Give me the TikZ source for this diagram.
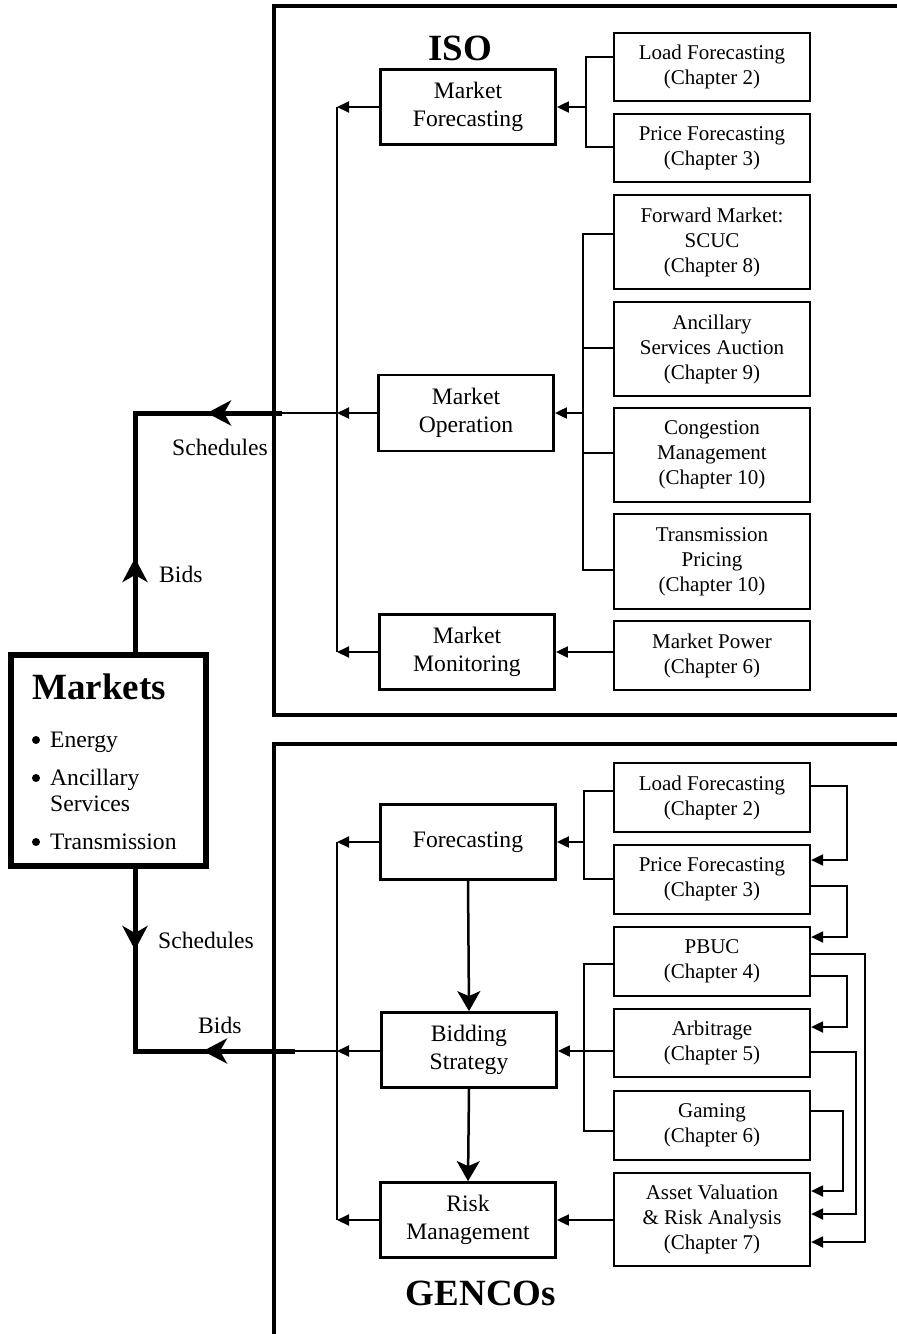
\documentclass[tikz,border=0pt]{standalone}
\usepackage{fontspec}
\setmainfont{Liberation Serif}
\usetikzlibrary{arrows.meta,calc}
\begin{document}
\begin{tikzpicture}[x=1pt,y=-1pt,
  mainbox/.style={draw, line width=2.8pt, minimum width=175pt, minimum height=75pt, inner sep=0pt, align=center, font=\fontsize{23.6}{27.5}\selectfont},
  chapbox/.style={draw, line width=2.2pt, minimum width=196pt, inner sep=0pt, align=center, font=\fontsize{21}{25}\selectfont},
  conn/.style={line width=2pt},
  tri/.style={-{Triangle[length=12pt,width=11pt]}},
  bigline/.style={line width=5pt},
  bighead/.style={-{Stealth[length=24pt,width=25pt,inset=7pt]}},
  midhead/.style={-{Stealth[length=20pt,width=23pt,inset=5pt]}},
  frameline/.style={line width=4pt},
  lbl/.style={font=\fontsize{23.6}{28}\selectfont, inner sep=0pt},
  dotmark/.style={circle, fill, inner sep=0pt, minimum size=8pt},
  titletext/.style={font=\fontsize{37}{40}\selectfont\bfseries, inner sep=0pt}
]
\fill[white] (0,0) rectangle (897,1334);
\useasboundingbox (0,0) rectangle (897,1334);

% frames
\draw[frameline] (900,6) -- (273.5,6) -- (273.5,715) -- (900,715);
\draw[frameline] (900,743.5) -- (273.5,743.5) -- (273.5,1340);

% titles
\node[titletext, anchor=base] (iso) at (460,60) {ISO};
\node[titletext, anchor=base] (gencos) at (481,1305) {GENCOs};

% ISO main boxes
\node[mainbox] (MF) at (468,107) {Market\\Forecasting};
\node[mainbox, minimum height=76pt] (MO) at (466,413) {Market\\Operation};
\node[mainbox] (MM) at (467,652) {Market\\Monitoring};

% ISO chapter boxes
\node[chapbox, minimum height=68pt] (LF1) at (712,67) {Load Forecasting\\(Chapter 2)};
\node[chapbox, minimum height=68pt] (PF1) at (712,148) {Price Forecasting\\(Chapter 3)};
\node[chapbox, minimum height=94pt] (FM) at (712,242) {Forward Market:\\SCUC\\(Chapter 8)};
\node[chapbox, minimum height=94pt] (AS) at (712,349) {Ancillary\\Services Auction\\(Chapter 9)};
\node[chapbox, minimum height=94pt] (CM) at (712,455) {Congestion\\Management\\(Chapter 10)};
\node[chapbox, minimum height=95pt] (TP) at (712,561.5) {Transmission\\Pricing\\(Chapter 10)};
\node[chapbox, minimum height=69pt] (MP) at (712,655.5) {Market Power\\(Chapter 6)};

% GENCO main boxes
\node[mainbox] (FC) at (468,842) {Forecasting};
\node[mainbox] (BS) at (469,1050) {Bidding\\Strategy};
\node[mainbox] (RM) at (468,1220) {Risk\\Management};

% GENCO chapter boxes
\node[chapbox, minimum height=69pt] (LF2) at (712,797.5) {Load Forecasting\\(Chapter 2)};
\node[chapbox, minimum height=69pt] (PF2) at (712,879.5) {Price Forecasting\\(Chapter 3)};
\node[chapbox, minimum height=69pt] (PB) at (712,961.5) {PBUC\\(Chapter 4)};
\node[chapbox, minimum height=68pt] (AR) at (712,1043) {Arbitrage\\(Chapter 5)};
\node[chapbox, minimum height=69pt] (GA) at (712,1125.5) {Gaming\\(Chapter 6)};
\node[chapbox, minimum height=93pt] (AV) at (712,1219.5) {Asset Valuation\\\& Risk Analysis\\(Chapter 7)};

% Markets box
\node[draw, line width=5.5pt, minimum width=195pt, minimum height=211pt, inner sep=0pt] (markets) at (108.5,760.5) {};
\node[titletext, anchor=base west] (mkt) at (32,699) {Markets};
\node[dotmark] (bu1) at (36,740) {};
\node[lbl, anchor=base west] (it1) at (50,747) {Energy};
\node[dotmark] (bu2) at (36,778) {};
\node[lbl, anchor=base west] (it2) at (50,785) {Ancillary};
\node[lbl, anchor=base west] (it2b) at (50,811) {Services};
\node[dotmark] (bu3) at (36,842) {};
\node[lbl, anchor=base west] (it3) at (50,849) {Transmission};

% labels
\node[lbl, anchor=base west] (schU) at (172,455) {Schedules};
\node[lbl, anchor=base west] (bidsU) at (159,582) {Bids};
\node[lbl, anchor=base west] (schL) at (158,948) {Schedules};
\node[lbl, anchor=base west] (bidsL) at (198,1033) {Bids};

% coordinates
\coordinate (L1) at (337,107);
\coordinate (L2) at (337,413);
\coordinate (L3) at (337,652);
\coordinate (G1) at (337,842);
\coordinate (G2) at (337,1051);
\coordinate (G3) at (337,1220);
\coordinate (r1) at (586,107);
\coordinate (r2) at (583,413);
\coordinate (r3) at (584,842);
\coordinate (upcorner) at (135,413);
\coordinate (upend) at (282,413);
\coordinate (lowcorner) at (135,1051);
\coordinate (lowend) at (295,1051);

% Markets thick connections
\draw[bigline] (markets.north -| upcorner) -- (upcorner) -- (upend);
\draw[bigline, bighead] (135,610) -- (135,558);
\draw[bigline, bighead] (262,413) -- (207,413);
\draw[conn] (upend) -- (L2);

\draw[bigline] (markets.south -| lowcorner) -- (lowcorner) -- (lowend);
\draw[bigline, bighead] (135,900) -- (135,950);
\draw[bigline, bighead] (258,1051) -- (203,1051);
\draw[conn] (lowend) -- (G2);

% ISO left bus
\draw[conn] (L1) -- (L3);
\draw[conn, tri] (MF.west) -- (L1);
\draw[conn, tri] (MO.west) -- (L2);
\draw[conn, tri] (MM.west) -- (L3);

% ISO Market Forecasting bus
\draw[conn] (LF1.west |- 0,57) -| (r1);
\draw[conn] (PF1.west |- 0,147) -| (r1);
\draw[conn, tri] (r1) -- (MF.east);

% ISO Market Operation bus
\draw[conn] (FM.west |- 0,234) -| (r2);
\draw[conn] (TP.west |- 0,570) -| (r2);
\draw[conn] (AS.west |- 0,348) -- (583,348);
\draw[conn] (CM.west |- 0,453) -- (583,453);
\draw[conn, tri] (r2) -- (MO.east);

% Market Power
\draw[conn, tri] (MP.west |- MM.east) -- (MM.east);

% GENCO left bus
\draw[conn] (G1) -- (G3);
\draw[conn, tri] (FC.west) -- (G1);
\draw[conn, tri] (BS.west |- G2) -- (G2);
\draw[conn, tri] (RM.west) -- (G3);

% GENCO Forecasting bus
\draw[conn] (LF2.west |- 0,791) -| (r3);
\draw[conn] (PF2.west |- 0,879) -| (r3);
\draw[conn, tri] (r3) -- (FC.east);

% GENCO Bidding bus
\draw[conn] (PB.west |- 0,964) -- (584,964) -- (584,1131) -- (GA.west |- 0,1131);
\draw[conn, tri] (AR.west |- 0,1051) -- (BS.east |- 0,1051);

% Asset -> Risk
\draw[conn, tri] (AV.west |- RM.east) -- (RM.east);

% vertical arrows
\draw[line width=2.5pt, midhead] (FC.south) -- (BS.north);
\draw[line width=2.5pt, midhead] (BS.south) -- (RM.north);

% right loops
\draw[conn, tri] (LF2.east |- 0,786) -- (847,786) |- (PF2.east |- 0,860);
\draw[conn, tri] (PF2.east |- 0,886) -- (847,886) |- (PB.east |- 0,937);
\draw[conn, tri] (PB.east |- 0,976) -- (847,976) |- (AR.east |- 0,1027);
\draw[conn, tri] (PB.east |- 0,954) -- (865,954) |- (AV.east |- 0,1242);
\draw[conn, tri] (AR.east |- 0,1052) -- (856,1052) |- (AV.east |- 0,1214);
\draw[conn, tri] (GA.east |- 0,1111) -- (843,1111) |- (AV.east |- 0,1191);
\end{tikzpicture}
\end{document}
